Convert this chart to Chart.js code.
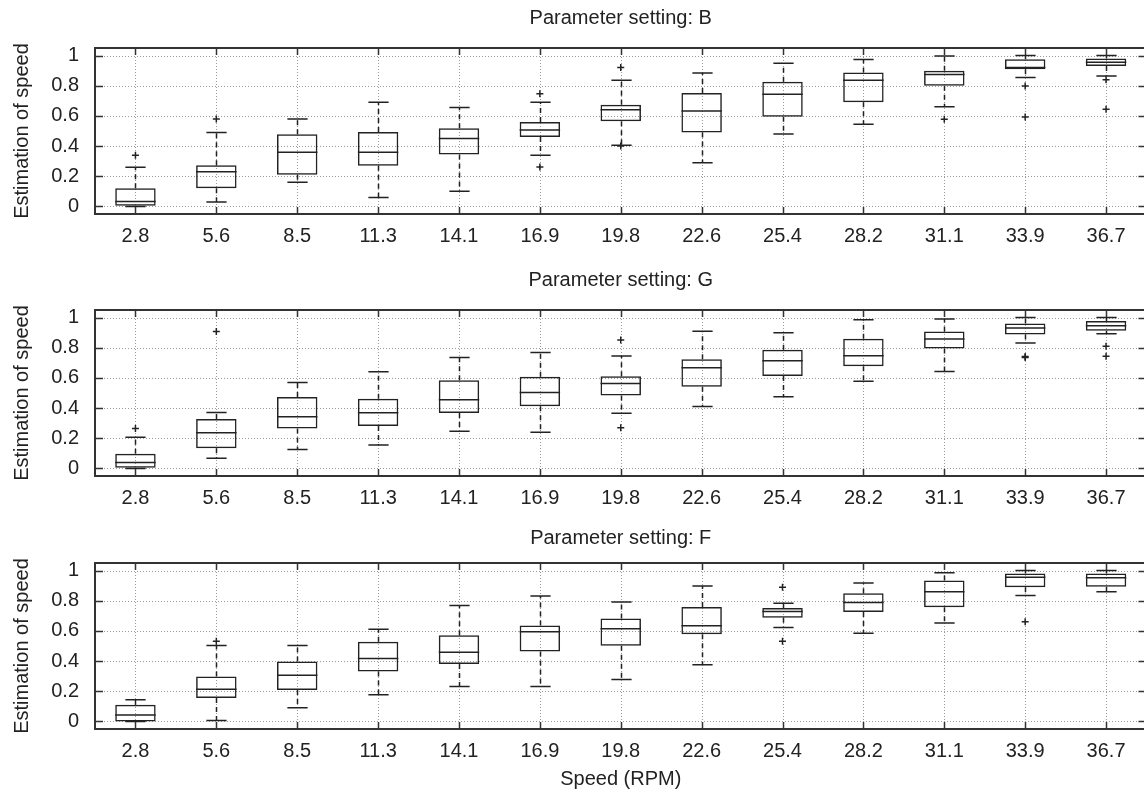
<!DOCTYPE html>
<html>
<head>
<meta charset="utf-8">
<script src="https://cdn.jsdelivr.net/npm/chart.js@4.4.1/dist/chart.umd.min.js"></script>
<style>
  html, body { margin: 0; padding: 0; background: #fff; overflow: hidden; width: 1144px; height: 794px; }
  canvas { position: absolute; left: 0; display: block; }
</style>
</head>
<body>
<canvas id="chartB" width="1152" height="254" style="top:0px"></canvas>
<canvas id="chartG" width="1152" height="254" style="top:262px"></canvas>
<canvas id="chartF" width="1152" height="280" style="top:515px"></canvas>
<script>
// speed categories (RPM)
var speeds = ['2.8', '5.6', '8.5', '11.3', '14.1', '16.9', '19.8', '22.6', '25.4', '28.2', '31.1', '33.9', '36.7'];
var yTicks = [0, 0.2, 0.4, 0.6, 0.8, 1];

// Parameter setting: B
var bLow  = [0.00, 0.03, 0.16, 0.06, 0.10, 0.34, 0.405, 0.29, 0.48, 0.545, 0.66, 0.855, 0.865];
var bQ1   = [0.005, 0.12, 0.21, 0.27, 0.345, 0.46, 0.565, 0.49, 0.595, 0.69, 0.80, 0.91, 0.93];
var bMed  = [0.033, 0.23, 0.36, 0.36, 0.45, 0.507, 0.64, 0.632, 0.744, 0.837, 0.874, 0.92, 0.955];
var bQ3   = [0.12, 0.273, 0.478, 0.493, 0.518, 0.559, 0.674, 0.751, 0.826, 0.888, 0.899, 0.976, 0.98];
var bHigh = [0.26, 0.49, 0.58, 0.69, 0.655, 0.69, 0.837, 0.885, 0.949, 0.974, 0.997, 1.0, 1.0];
var bOut  = [[0.34], [0.58], [], [], [], [0.747, 0.262], [0.921, 0.40], [], [], [], [0.578], [0.798, 0.593], [0.84, 0.644]];

// Parameter setting: G
var gLow  = [0.00, 0.068, 0.125, 0.156, 0.246, 0.24, 0.365, 0.411, 0.475, 0.578, 0.642, 0.831, 0.893];
var gQ1   = [0.004, 0.134, 0.264, 0.281, 0.367, 0.413, 0.484, 0.541, 0.613, 0.677, 0.795, 0.887, 0.913];
var gMed  = [0.04, 0.237, 0.343, 0.369, 0.455, 0.503, 0.563, 0.668, 0.714, 0.747, 0.858, 0.93, 0.945];
var gQ3   = [0.097, 0.327, 0.473, 0.462, 0.585, 0.607, 0.611, 0.723, 0.787, 0.859, 0.907, 0.96, 0.977];
var gHigh = [0.207, 0.371, 0.569, 0.64, 0.736, 0.769, 0.745, 0.91, 0.899, 0.985, 0.99, 1.0, 1.0];
var gOut  = [[0.264], [0.908], [], [], [], [], [0.851, 0.27], [], [], [], [], [0.742, 0.735], [0.81, 0.744]];

// Parameter setting: F
var fLow  = [0.00, 0.007, 0.091, 0.177, 0.232, 0.232, 0.278, 0.375, 0.623, 0.585, 0.652, 0.834, 0.859];
var fQ1   = [0.00, 0.155, 0.208, 0.331, 0.38, 0.464, 0.501, 0.578, 0.687, 0.726, 0.757, 0.889, 0.893];
var fMed  = [0.042, 0.214, 0.307, 0.417, 0.459, 0.594, 0.614, 0.634, 0.728, 0.788, 0.86, 0.956, 0.953];
var fQ3   = [0.11, 0.298, 0.397, 0.528, 0.572, 0.636, 0.682, 0.759, 0.751, 0.85, 0.934, 0.981, 0.981];
var fHigh = [0.143, 0.503, 0.503, 0.611, 0.768, 0.832, 0.792, 0.898, 0.784, 0.918, 0.985, 1.0, 1.0];
var fOut  = [[], [0.532], [], [], [], [], [], [], [0.89, 0.532], [], [], [0.66], []];

Chart.defaults.font.family = '"Liberation Sans", Arial, sans-serif';
Chart.defaults.color = '#222';

function makePanel(id, title, low, q1, med, q3, high, out, opt) {
  var ink = '#222';

  // grid, frame, ticks, whiskers and medians, all placed through the chart scales
  var boxParts = {
    id: 'boxParts',
    beforeDatasetsDraw: function (chart) {
      var ctx = chart.ctx, a = chart.chartArea, x = chart.scales.x, y = chart.scales.y;
      ctx.save();
      ctx.strokeStyle = '#9a9a9a';
      ctx.lineWidth = 1;
      ctx.setLineDash([1, 2]);
      yTicks.forEach(function (v) {
        var py = Math.round(y.getPixelForValue(v)) + 0.5;
        ctx.beginPath(); ctx.moveTo(a.left, py); ctx.lineTo(a.right, py); ctx.stroke();
      });
      speeds.forEach(function (s, i) {
        var px = Math.round(x.getPixelForValue(i)) + 0.5;
        ctx.beginPath(); ctx.moveTo(px, a.top); ctx.lineTo(px, a.bottom); ctx.stroke();
      });
      ctx.restore();
    },
    afterDatasetsDraw: function (chart) {
      var ctx = chart.ctx, a = chart.chartArea, x = chart.scales.x, y = chart.scales.y;
      var bars = chart.getDatasetMeta(0).data;
      var step = x.getPixelForValue(1) - x.getPixelForValue(0);
      var cap = step * 0.125;
      ctx.save();
      ctx.strokeStyle = ink;
      ctx.lineWidth = 1.5;
      speeds.forEach(function (s, i) {
        var px = Math.round(x.getPixelForValue(i)) + 0.5;
        var half = bars[i].width / 2;
        // whiskers
        ctx.setLineDash([5, 4]);
        ctx.beginPath();
        ctx.moveTo(px, y.getPixelForValue(q3[i])); ctx.lineTo(px, y.getPixelForValue(high[i]));
        ctx.moveTo(px, y.getPixelForValue(q1[i])); ctx.lineTo(px, y.getPixelForValue(low[i]));
        ctx.stroke();
        ctx.setLineDash([]);
        ctx.beginPath();
        ctx.moveTo(px - cap, y.getPixelForValue(high[i])); ctx.lineTo(px + cap, y.getPixelForValue(high[i]));
        ctx.moveTo(px - cap, y.getPixelForValue(low[i])); ctx.lineTo(px + cap, y.getPixelForValue(low[i]));
        // median
        ctx.moveTo(bars[i].x - half, y.getPixelForValue(med[i])); ctx.lineTo(bars[i].x + half, y.getPixelForValue(med[i]));
        ctx.stroke();
      });
      // frame with inward ticks
      ctx.strokeStyle = '#333';
      ctx.lineWidth = 2;
      ctx.strokeRect(a.left, a.top, a.right - a.left, a.bottom - a.top);
      ctx.lineWidth = 1.5;
      ctx.beginPath();
      yTicks.forEach(function (v) {
        var py = Math.round(y.getPixelForValue(v)) + 0.5;
        ctx.moveTo(a.left, py); ctx.lineTo(a.left + 8, py);
        ctx.moveTo(a.right, py); ctx.lineTo(a.right - 8, py);
      });
      speeds.forEach(function (s, i) {
        var px = Math.round(x.getPixelForValue(i)) + 0.5;
        ctx.moveTo(px, a.bottom); ctx.lineTo(px, a.bottom - 7);
        ctx.moveTo(px, a.top); ctx.lineTo(px, a.top + 7);
      });
      ctx.stroke();
      ctx.restore();
    }
  };

  var outPts = [];
  out.forEach(function (list, i) {
    list.forEach(function (v) { outPts.push({ x: speeds[i], y: v }); });
  });

  return new Chart(document.getElementById(id), {
    type: 'bar',
    data: {
      labels: speeds,
      datasets: [{
        data: speeds.map(function (s, i) { return [q1[i], q3[i]]; }),
        backgroundColor: 'rgba(0,0,0,0)',
        borderColor: ink,
        borderWidth: 1.5,
        borderSkipped: false,
        barPercentage: 0.5,
        categoryPercentage: 1.0
      }, {
        type: 'line',
        data: outPts,
        showLine: false,
        pointStyle: 'cross',
        pointRadius: 3.5,
        pointBorderColor: ink,
        pointBorderWidth: 1.5
      }]
    },
    options: {
      responsive: false,
      animation: false,
      devicePixelRatio: 1,
      layout: { padding: { left: 0, right: 2, top: 0, bottom: 0 } },
      plugins: {
        legend: { display: false },
        tooltip: { enabled: false },
        title: {
          display: true,
          text: title,
          fullSize: false,
          color: ink,
          font: { size: 20, weight: 'normal' },
          padding: { top: opt.titleTop, bottom: 48 - 24 - opt.titleTop }
        }
      },
      scales: {
        x: {
          type: 'category',
          offset: true,
          grid: { display: false, drawTicks: false, offset: false },
          border: { display: false },
          ticks: { font: { size: 20 }, color: ink, padding: 10, maxRotation: 0 },
          title: {
            display: opt.xTitle,
            text: 'Speed (RPM)',
            color: ink,
            font: { size: 20 },
            padding: { top: 0, bottom: 4 }
          },
          afterFit: function (s) { s.height = opt.xHeight; }
        },
        y: {
          min: -0.05,
          max: 1.05,
          grid: { display: false, drawTicks: false },
          border: { display: false },
          afterBuildTicks: function (s) { s.ticks = yTicks.map(function (v) { return { value: v }; }); },
          ticks: {
            font: { size: 20 },
            color: ink,
            padding: 16,
            callback: function (v) { return String(Math.round(v * 10) / 10); }
          },
          title: {
            display: true,
            text: 'Estimation of speed',
            color: ink,
            font: { size: 20 },
            padding: { top: 10, bottom: 0 }
          },
          afterFit: function (s) { s.width = 95; }
        }
      }
    },
    plugins: [boxParts]
  });
}

makePanel('chartB', 'Parameter setting: B', bLow, bQ1, bMed, bQ3, bHigh, bOut, { titleTop: 6, xHeight: 40, xTitle: false });
makePanel('chartG', 'Parameter setting: G', gLow, gQ1, gMed, gQ3, gHigh, gOut, { titleTop: 6, xHeight: 40, xTitle: false });
makePanel('chartF', 'Parameter setting: F', fLow, fQ1, fMed, fQ3, fHigh, fOut, { titleTop: 11, xHeight: 66, xTitle: true });
</script>
</body>
</html>
